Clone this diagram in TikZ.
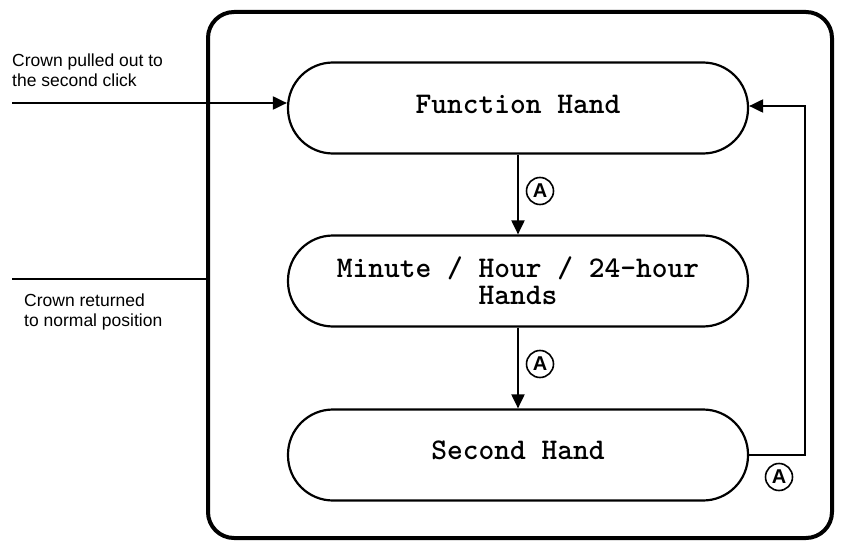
\documentclass[tikz,border=0pt]{standalone}
\usepackage{fontspec}
\setmainfont{Liberation Sans}
\usetikzlibrary{arrows.meta}
\begin{document}
\begin{tikzpicture}[x=1pt,y=-1pt,
  handbox/.style={draw,line width=2.2pt,rounded corners=45pt,minimum width=460pt,minimum height=91pt,inner sep=0pt,
    font=\ttfamily\bfseries\fontsize{30}{27}\selectfont,align=center},
  conn/.style={line width=2pt,-{Triangle[length=14pt,width=13pt]}},
  plain/.style={line width=2pt},
  marka/.style={circle,draw,line width=1.6pt,minimum size=27pt,inner sep=0pt,font=\bfseries\fontsize{20}{20}\selectfont},
  lbl/.style={anchor=north west,align=left,inner sep=0pt,font=\fontsize{17.5}{20}\selectfont}]
\useasboundingbox (0,0) rectangle (841,543);
\draw[line width=4pt,rounded corners=26pt] (208,12) rectangle (832,538);
\node[handbox] (fh) at (518,108) {\raisebox{8pt}{Function Hand}};
\node[handbox] (mh) at (518,281) {Minute / Hour / 24-hour\\Hands};
\node[handbox] (sh) at (518,455) {\raisebox{10pt}{Second Hand}};
\coordinate (in1) at (12,103);
\coordinate (in2) at (12,279);
\coordinate (in2e) at (208,279);
\coordinate (rb) at (805,455);
\coordinate (rt) at (805,106);
\draw[conn] (in1) -- (in1 -| fh.west);
\draw[plain] (in2) -- (in2e);
\draw[conn] (fh.south) -- (mh.north);
\draw[conn] (mh.south) -- (sh.north);
\draw[conn] (sh.east) -- (rb) -- (rt) -- (rt -| fh.east);
\node[marka] (a1) at (540,191) {A};
\node[marka] (a2) at (540,364) {A};
\node[marka] (a3) at (779,477) {A};
\node[lbl] (t1) at (12,54) {Crown pulled out to\\the second click};
\node[lbl] (t2) at (24,294) {Crown returned\\to normal position};
\end{tikzpicture}
\end{document}
